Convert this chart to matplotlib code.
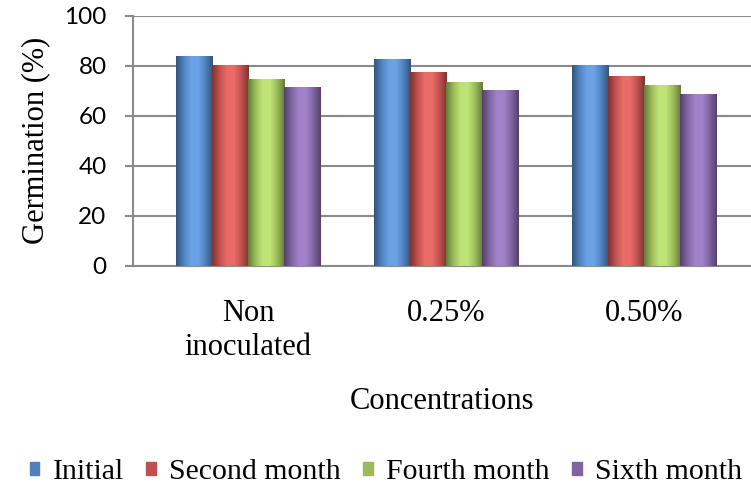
import numpy as np
import matplotlib
matplotlib.use("Agg")
import matplotlib.pyplot as plt
from matplotlib.colors import LinearSegmentedColormap, to_rgb
from matplotlib.patches import Rectangle

# --- data ---
categories = ["Non\ninoculated", "0.25%", "0.50%"]
series = ["Initial", "Second month", "Fourth month", "Sixth month"]
initial = [84.0, 82.8, 80.2]
second_month = [80.3, 77.7, 76.1]
fourth_month = [74.8, 73.5, 72.4]
sixth_month = [71.5, 70.3, 68.6]
values = [initial, second_month, fourth_month, sixth_month]
colors = ["#4F81BD", "#C0504D", "#9BBB59", "#8064A2"]

serif = "Liberation Serif"
fs = 22

fig = plt.figure(figsize=(7.51, 4.92), dpi=100)
ax = fig.add_axes([133 / 751, 1 - 266 / 492, 1 - 133 / 751, (266 - 15.7) / 492])

x = np.arange(len(categories))
width = 0.183


def shade_cmap(c):
    r, g, b = to_rgb(c)
    dark = (r * 0.65, g * 0.65, b * 0.65)
    light = tuple(min(1, v * 1.12 + 0.07) for v in (r, g, b))
    return LinearSegmentedColormap.from_list(
        "s", [dark, c, light, light, c, dark], N=128)


grad = np.linspace(0, 1, 128).reshape(1, -1)
for i, (vals, col) in enumerate(zip(values, colors)):
    pos = x + (i - 1.5) * width
    bars = ax.bar(pos, vals, width, color=col, zorder=3, linewidth=0)
    cmap = shade_cmap(col)
    for b in bars:
        x0, w, h = b.get_x(), b.get_width(), b.get_height()
        im = ax.imshow(grad, extent=[x0, x0 + w, 0, h], aspect="auto",
                       cmap=cmap, zorder=4, interpolation="bilinear")
        im.set_clip_path(b)

ax.set_xlim(-0.581, 2.54)
ax.set_ylim(0, 100)
ax.set_yticks(range(0, 101, 20))
ax.yaxis.grid(True, color="#8a8a8a", linewidth=1.5, zorder=0)
ax.set_axisbelow(True)

for s in ["top", "right"]:
    ax.spines[s].set_visible(False)
ax.spines["left"].set_color("#8a8a8a")
ax.spines["left"].set_linewidth(1.5)
ax.spines["bottom"].set_color("#8a8a8a")
ax.spines["bottom"].set_linewidth(1.5)

ax.tick_params(axis="y", length=6, width=1.5, color="#8a8a8a", pad=13,
               labelsize=17.5)
for lab in ax.get_yticklabels():
    lab.set_family("Lato")
ax.set_xticks(x)
ax.set_xticklabels(categories, family=serif, fontsize=fs, linespacing=1.2)
ax.tick_params(axis="x", length=0, pad=24)

ax.set_ylabel("Germination (%)", family=serif, fontsize=fs, labelpad=10)
ax.set_xlabel("Concentrations", family=serif, fontsize=fs, labelpad=18)

handles = [Rectangle((0, 0), 1, 1, color=c) for c in colors]
fig.legend(handles, series, loc="center", bbox_to_anchor=(386 / 751, 1 - 472 / 492),
           ncol=4, frameon=False, prop={"family": serif, "size": 21.5},
           handlelength=0.32, handleheight=0.32, handletextpad=0.45,
           columnspacing=0.75, borderpad=0)

fig.savefig("out.png", dpi=100)
